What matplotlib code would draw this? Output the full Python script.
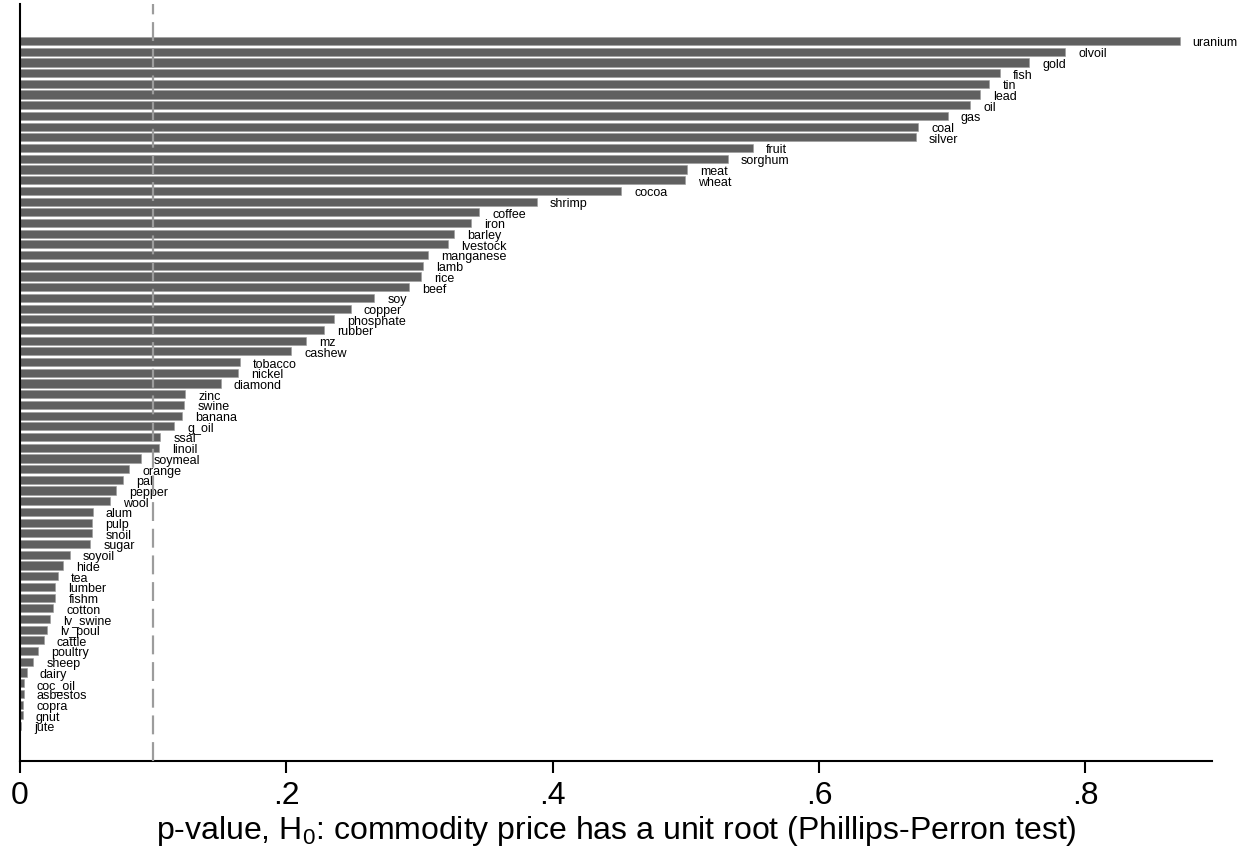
import matplotlib
matplotlib.use('Agg')
import matplotlib.pyplot as plt

plt.rcParams['font.family'] = ['Liberation Sans', 'DejaVu Sans']
plt.rcParams['mathtext.default'] = 'regular'

commodities = ['uranium', 'olvoil', 'gold', 'fish', 'tin', 'lead', 'oil', 'gas', 'coal', 'silver',
               'fruit', 'sorghum', 'meat', 'wheat', 'cocoa', 'shrimp', 'coffee', 'iron', 'barley', 'lvestock',
               'manganese', 'lamb', 'rice', 'beef', 'soy', 'copper', 'phosphate', 'rubber', 'mz', 'cashew',
               'tobacco', 'nickel', 'diamond', 'zinc', 'swine', 'banana', 'g_oil', 'ssal', 'linoil', 'soymeal',
               'orange', 'pal', 'pepper', 'wool', 'alum', 'pulp', 'snoil', 'sugar', 'soyoil', 'hide',
               'tea', 'lumber', 'fishm', 'cotton', 'lv_swine', 'lv_poul', 'cattle', 'poultry', 'sheep', 'dairy',
               'coc_oil', 'asbestos', 'copra', 'gnut', 'jute']
pvalues = [0.8706, 0.7845, 0.7576, 0.7356, 0.7279, 0.7207, 0.7136, 0.6966, 0.6743, 0.6727,
           0.5504, 0.5315, 0.5011, 0.4990, 0.4512, 0.3881, 0.3450, 0.3388, 0.3258, 0.3216,
           0.3065, 0.3023, 0.3014, 0.2920, 0.2658, 0.2483, 0.2358, 0.2284, 0.2147, 0.2034,
           0.1649, 0.1634, 0.1506, 0.1242, 0.1231, 0.1214, 0.1159, 0.1053, 0.1044, 0.0906,
           0.0821, 0.0776, 0.0721, 0.0678, 0.0546, 0.0541, 0.0541, 0.0528, 0.0373, 0.0325,
           0.0283, 0.0265, 0.0265, 0.0250, 0.0225, 0.0203, 0.0178, 0.0137, 0.0100, 0.0050,
           0.0028, 0.0028, 0.0023, 0.0020, 0.0005]
threshold = 0.1
xticks = [0, 0.2, 0.4, 0.6, 0.8]
xticklabels = ['0', '.2', '.4', '.6', '.8']

fig = plt.figure(figsize=(12.47, 8.53), dpi=100)
ax = fig.add_axes([20/1247, 91/853, 1192/1247, 757/853])

pos = list(range(len(commodities)))
ax.barh(pos, pvalues, height=0.76, color='#606060', edgecolor='#9a9a9a', linewidth=0.4, zorder=2)
for p, v, name in zip(pos, pvalues, commodities):
    ax.annotate(name, (v, p), xytext=(9.5, -1), textcoords='offset points',
                va='center', ha='left', fontsize=9, color='black')

ax.axvline(threshold, color='#9c9c9c', linewidth=1.6, dashes=(8.5, 3.5), zorder=3)

ax.set_ylim(len(commodities) - 1 + 3.27, -3.46)
ax.set_xlim(0, 0.895)
ax.set_xticks(xticks)
ax.set_xticklabels(xticklabels, fontsize=23)
ax.set_yticks([])
ax.spines['top'].set_visible(False)
ax.spines['right'].set_visible(False)
ax.spines['left'].set_linewidth(1.5)
ax.spines['bottom'].set_linewidth(1.5)
ax.tick_params(axis='x', direction='out', length=8.6, width=1.5, pad=5)
ax.set_xlabel('p-value, H$_0$: commodity price has a unit root (Phillips-Perron test)',
              fontsize=23, labelpad=2)

fig.savefig('out.png', dpi=100)
